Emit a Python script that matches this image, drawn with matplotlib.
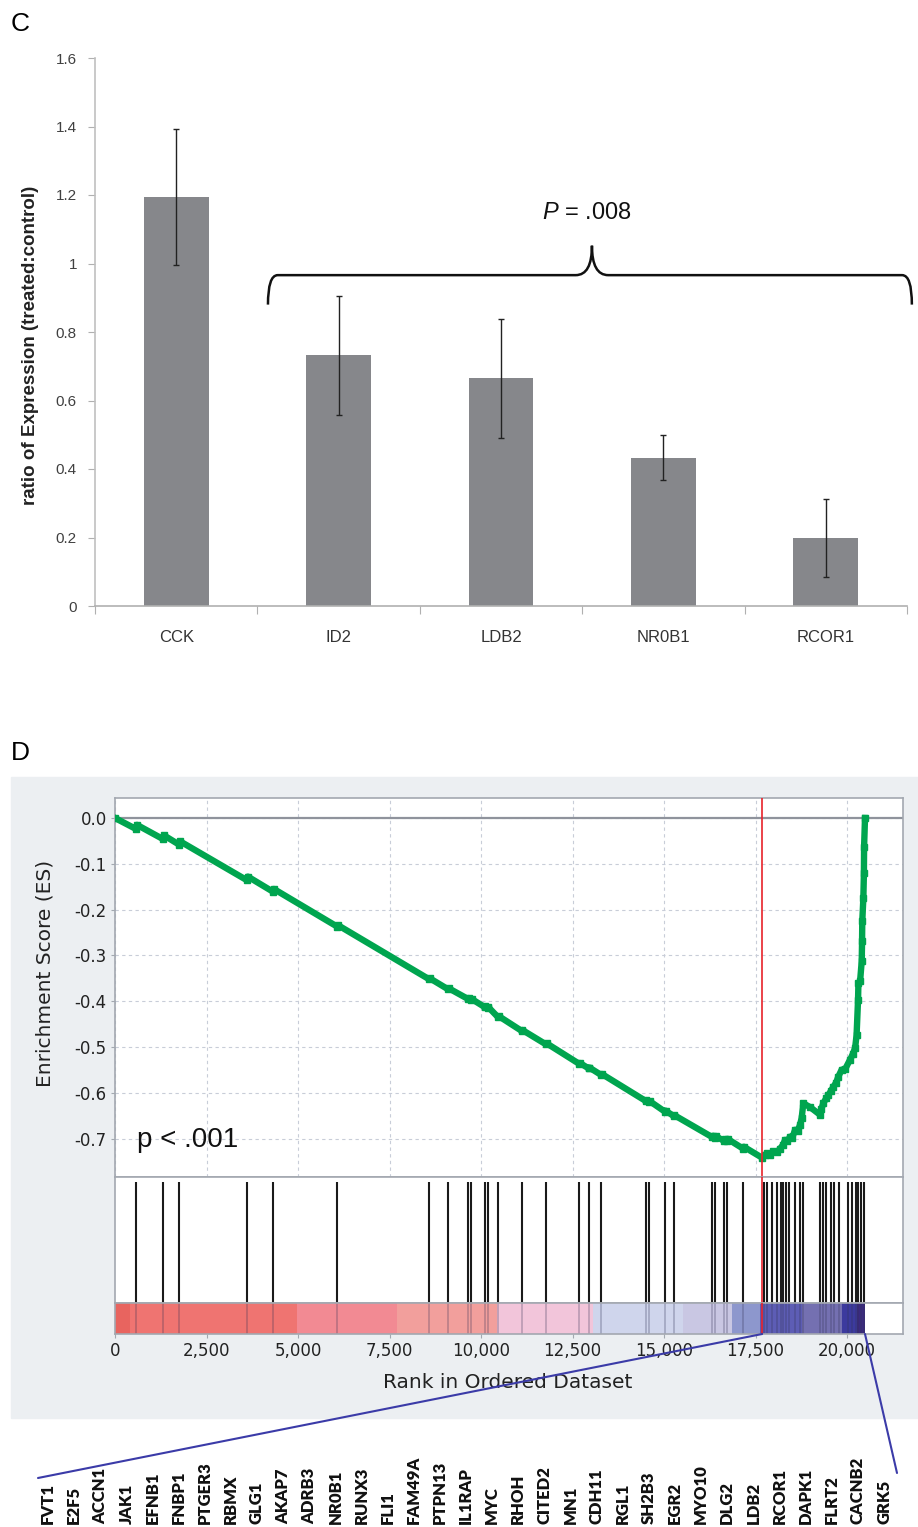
import numpy as np
import matplotlib
matplotlib.use("Agg")
import matplotlib.pyplot as plt
from matplotlib.patches import Rectangle, PathPatch, ConnectionPatch
from matplotlib.path import Path

W, H = 918, 1527

# ---- panel C: qPCR ratios ----
genes_c = ["CCK", "ID2", "LDB2", "NR0B1", "RCOR1"]
ratio = [1.195, 0.732, 0.665, 0.433, 0.198]
ratio_err = [0.198, 0.174, 0.174, 0.066, 0.113]
c_yticks = [0, 0.2, 0.4, 0.6, 0.8, 1.0, 1.2, 1.4, 1.6]

# ---- panel D: GSEA enrichment plot ----
es_rank = [0, 574, 600, 1311, 1340, 1749, 1780, 3607, 3630, 4317, 4340,
           6066, 6090, 8579, 8600, 9098, 9120, 9640, 9660, 9720, 9740,
           10100, 10120, 10180, 10200, 10464, 10490, 11111, 11130, 11767, 11790,
           12685, 12700, 12942, 12960, 13278, 13300, 14500, 14520, 14600, 14620,
           15018, 15040, 15264, 15280, 16318, 16340, 16400, 16420, 16650, 16670,
           16720, 16740, 17157, 17180, 17680,
           17760, 17805, 17900, 17985, 18080, 18170, 18250, 18305, 18370, 18440,
           18500, 18580, 18650, 18715, 18760, 18805, 19000, 19260, 19300, 19350,
           19430, 19490, 19560, 19625, 19700, 19760, 19850, 19950, 20080, 20160,
           20220, 20260, 20300, 20310, 20355, 20400, 20410, 20415, 20445, 20460,
           20465, 20490]
es_val = [0.0, -0.024, -0.015, -0.046, -0.038, -0.058, -0.051, -0.136, -0.128, -0.161, -0.155,
          -0.237, -0.234, -0.352, -0.350, -0.374, -0.372, -0.395, -0.393, -0.397, -0.395,
          -0.413, -0.411, -0.415, -0.413, -0.435, -0.433, -0.465, -0.463, -0.494, -0.492,
          -0.537, -0.535, -0.547, -0.545, -0.561, -0.559, -0.618, -0.616, -0.621, -0.619,
          -0.641, -0.639, -0.651, -0.649, -0.697, -0.694, -0.698, -0.695, -0.706, -0.702,
          -0.705, -0.701, -0.722, -0.718, -0.742,
          -0.736, -0.732, -0.735, -0.728, -0.730, -0.722, -0.714, -0.703, -0.706, -0.696,
          -0.699, -0.681, -0.684, -0.670, -0.655, -0.623, -0.632, -0.648, -0.635, -0.623,
          -0.612, -0.605, -0.596, -0.587, -0.578, -0.565, -0.550, -0.548, -0.528, -0.515,
          -0.502, -0.474, -0.397, -0.361, -0.357, -0.313, -0.269, -0.226, -0.175, -0.121,
          -0.063, 0.0]

hits = [574, 1311, 1749, 3607, 4317, 6066, 8579, 9098, 9640, 9720, 10100, 10180,
        10464, 11111, 11767, 12685, 12942, 13278, 14500, 14600, 15018, 15264,
        16318, 16400, 16650, 16720, 17157, 17730, 17800, 17941, 18078, 18195,
        18257, 18331, 18400, 18577, 18720, 18800, 19250, 19330, 19425, 19562,
        19652, 19780, 20018, 20144, 20245, 20308, 20381, 20463]

# ranked list colour bar: segment edges (rank) and colours
bar_edges = [0, 410, 4970, 7700, 10440, 13060, 15520, 16860, 17620, 18770, 19860, 20270, 20500]
bar_colors = ['#e8645f', '#ef7471', '#f28a93', '#f29f9c', '#f2c5da', '#cfd5ec',
              '#c9c7e3', '#8d97cd', '#5d5db5', '#7470b1', '#3c3a9e', '#3b2a7f']

es_yticks = [0.0, -0.1, -0.2, -0.3, -0.4, -0.5, -0.6, -0.7]
rank_ticks = [0, 2500, 5000, 7500, 10000, 12500, 15000, 17500, 20000]

leading_edge = ["FVT1", "E2F5", "ACCN1", "JAK1", "EFNB1", "FNBP1", "PTGER3", "RBMX",
                "GLG1", "AKAP7", "ADRB3", "NR0B1", "RUNX3", "FLI1", "FAM49A", "PTPN13",
                "IL1RAP", "MYC", "RHOH", "CITED2", "MN1", "CDH11", "RGL1", "SH2B3",
                "EGR2", "MYO10", "DLG2", "LDB2", "RCOR1", "DAPK1", "FLRT2", "CACNB2", "GRK5"]


def rect(l, t, r, b):
    # pixel box -> figure fraction
    return [l / W, 1 - b / H, (r - l) / W, (b - t) / H]


fig = plt.figure(figsize=(W / 100, H / 100), dpi=100)

# ================= panel C =================
axc = fig.add_axes(rect(95, 58, 907, 606))
x = np.arange(len(genes_c))
axc.bar(x, ratio, width=0.4, color='#86878b', zorder=2)
axc.errorbar(x, ratio, yerr=ratio_err, fmt='none', ecolor='#222222', elinewidth=1,
             capsize=2, capthick=1, zorder=3)
axc.set_xlim(-0.5, len(genes_c) - 0.5)
axc.set_ylim(0, 1.6)
axc.set_yticks(c_yticks)
axc.set_yticklabels([f"{v:g}" for v in c_yticks], family='Liberation Sans', fontsize=11, color='#404040')
axc.set_xticks(np.arange(len(genes_c) + 1) - 0.5)
axc.set_xticklabels([])
axc.set_xticks(x, minor=True)
axc.set_xticklabels(genes_c, minor=True, family='Liberation Sans', fontsize=12, color='#333333')
axc.tick_params(axis='x', which='major', length=6, color='#b0b0b0', direction='out')
axc.tick_params(axis='x', which='minor', length=0, pad=17)
axc.tick_params(axis='y', length=5, color='#b0b0b0', pad=8)
for s in ['top', 'right']:
    axc.spines[s].set_visible(False)
axc.spines['left'].set_color('#c0c0c0')
axc.spines['left'].set_linewidth(1.2)
axc.spines['bottom'].set_color('#b0b0b0')
axc.spines['bottom'].set_linewidth(1.2)
axc.set_ylabel("ratio of Expression (treated:control)", family='Liberation Sans',
               fontsize=13.5, fontweight='bold', color='#222222')
axc.yaxis.set_label_coords(-0.08, 0.476)
axc.yaxis.label.set_va('center')

# curly brace over ID2..RCOR1
x0, x1, xm = 0.565, 4.53, 2.56
y_end, y_top, y_tip = 0.88, 0.966, 1.052
verts = [(x0, y_end), (x0, y_top), (x0 + 0.06, y_top), (xm - 0.1, y_top), (xm, y_top), (xm, y_tip),
         (xm, y_tip), (xm, y_top), (xm + 0.1, y_top), (x1 - 0.06, y_top), (x1, y_top), (x1, y_end)]
codes = [Path.MOVETO, Path.CURVE3, Path.CURVE3, Path.LINETO, Path.CURVE3, Path.CURVE3,
         Path.MOVETO, Path.CURVE3, Path.CURVE3, Path.LINETO, Path.CURVE3, Path.CURVE3]
axc.add_patch(PathPatch(Path(verts, codes), fill=False, lw=1.8, color='#111111', clip_on=False))
plt.rcParams['mathtext.fontset'] = 'custom'
plt.rcParams['mathtext.it'] = 'Liberation Sans:italic'
plt.rcParams['mathtext.rm'] = 'Liberation Sans'
axc.text(2.53, 1.147, r"$P$ = .008", family='Liberation Sans', fontsize=17,
         ha='center', va='center', color='#111111')

fig.text(20 / W, 1 - 24 / H, "C", family='Liberation Sans', fontsize=19, ha='center', va='center')
fig.text(20 / W, 1 - 753 / H, "D", family='Liberation Sans', fontsize=19, ha='center', va='center')

# ================= panel D =================
fig.patches.append(Rectangle((11 / W, 1 - 1418 / H), (W - 11) / W, (1418 - 777) / H,
                             transform=fig.transFigure, color='#eceff2', zorder=-5))

xmax = 21528
frame = '#a3a8b0'
ax_es = fig.add_axes(rect(115, 798, 903, 1177))
ax_hit = fig.add_axes(rect(115, 1177, 903, 1303))
ax_bar = fig.add_axes(rect(115, 1303, 903, 1334))
for a in (ax_es, ax_hit, ax_bar):
    a.set_xlim(0, xmax)
    a.set_facecolor('white')
    for s in a.spines.values():
        s.set_color(frame)
        s.set_linewidth(1.2)

ax_es.set_ylim(-0.784, 0.0437)
ax_es.set_xticks(rank_ticks)
ax_es.set_yticks(es_yticks)
ax_es.set_yticklabels([f"{v:.1f}" for v in es_yticks], fontsize=12, color='#222222')
ax_es.tick_params(axis='x', length=0, labelbottom=False)
ax_es.tick_params(axis='y', length=3, color=frame, pad=3)
ax_es.grid(True, ls=(0, (3, 3)), color='#c8cdd8', lw=0.8)
ax_es.axhline(0, color='#8f939c', lw=1.6, zorder=2)
ax_es.plot(es_rank, es_val, color='#00a54f', lw=4.6, marker='s', ms=5, zorder=3)
ax_es.set_ylabel("Enrichment Score (ES)", fontsize=14.5, color='#222222')
ax_es.yaxis.set_label_coords(-0.089, 0.536)
ax_es.yaxis.label.set_va('center')
ax_es.text(0.028, 0.098, "p < .001", transform=ax_es.transAxes, family='Liberation Sans',
           fontsize=20, va='center', ha='left', color='#111111')

peak_rank = es_rank[int(np.argmin(es_val))]

ax_hit.set_ylim(0, 1)
ax_hit.vlines(hits, 0, 0.96, color='#1a1a1a', lw=1.5)
ax_hit.set_xticks([])
ax_hit.set_yticks([])

ax_bar.set_ylim(0, 1)
for i, c in enumerate(bar_colors):
    ax_bar.axvspan(bar_edges[i], bar_edges[i + 1], color=c, lw=0)
ax_bar.vlines(hits, 0, 1, color='#333355', lw=1.2, alpha=0.3)
ax_bar.set_yticks([])
ax_bar.set_xticks(rank_ticks)
ax_bar.set_xticklabels([f"{v:,}" for v in rank_ticks], fontsize=12, color='#222222')
ax_bar.tick_params(axis='x', length=3, color=frame, pad=3)
ax_bar.set_xlabel("Rank in Ordered Dataset", fontsize=14.5, color='#222222')
ax_bar.xaxis.set_label_coords(0.498, -1.25)

for a in (ax_es, ax_hit, ax_bar):
    a.axvline(peak_rank, color='#e8222a', lw=1.2, zorder=4)

# connectors from the leading edge to the gene list
blue = '#3b3ba8'
for r, (fx, fy) in [(peak_rank, (38, 1478)), (es_rank[-1], (897, 1473))]:
    con = ConnectionPatch(xyA=(r, 0), coordsA=ax_bar.transData,
                          xyB=(fx / W, 1 - fy / H), coordsB=fig.transFigure,
                          color=blue, lw=1.5)
    fig.add_artist(con)

gx = np.linspace(48, 884, len(leading_edge))
for g, xx in zip(leading_edge, gx):
    fig.text(xx / W, 1 - 1524 / H, g, rotation=90, family='Lato', fontweight='heavy',
             fontsize=12, ha='center', va='bottom', color='#111111')

fig.savefig("out.png", dpi=100)
